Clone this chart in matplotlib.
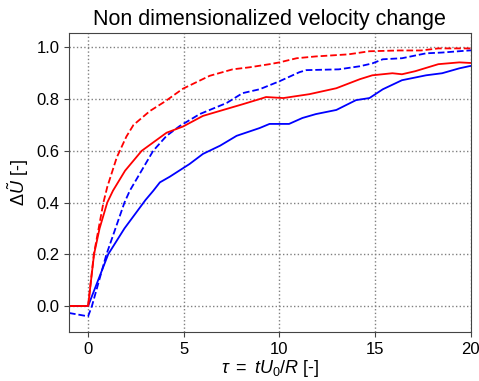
import matplotlib
matplotlib.use("Agg")
import matplotlib.pyplot as plt

plt.rcParams['font.family'] = ['Liberation Sans', 'DejaVu Sans']
plt.rcParams['mathtext.fontset'] = 'custom'
plt.rcParams['mathtext.rm'] = 'Liberation Sans'
plt.rcParams['mathtext.it'] = 'Liberation Sans:italic'

# red dashed
rd_x = [-1, 0, 0.3, 0.8, 1.0, 1.5, 2.0, 2.37, 3.23, 4.0, 4.95, 6.35, 7.55, 8.44, 9.48, 10.0, 10.9, 11.9, 13.6, 14.7, 16.25, 17.4, 18.3, 19.9, 20.5]
rd_y = [0.0, 0.0, 0.2, 0.4, 0.46, 0.575, 0.655, 0.70, 0.754, 0.79, 0.84, 0.89, 0.915, 0.923, 0.935, 0.942, 0.958, 0.965, 0.973, 0.985, 0.988, 0.988, 0.996, 0.996, 0.997]
# red solid
rs_x = [-1, 0, 0.31, 0.6, 1.0, 1.3, 1.93, 2.8, 4.1, 4.96, 6.0, 7.24, 8.07, 8.96, 9.3, 10.2, 11.56, 12.97, 14.2, 14.85, 15.9, 16.4, 17.1, 18.3, 19.4, 19.9, 20.5]
rs_y = [0.0, 0.0, 0.2, 0.3, 0.4, 0.446, 0.523, 0.60, 0.67, 0.694, 0.735, 0.762, 0.78, 0.80, 0.808, 0.804, 0.819, 0.842, 0.877, 0.892, 0.90, 0.896, 0.908, 0.935, 0.942, 0.94, 0.938]
# blue dashed
bd_x = [-1, 0, 0.2, 0.96, 1.9, 2.18, 3.4, 4.1, 4.79, 5.83, 7.24, 8.07, 8.96, 10.0, 11.04, 11.4, 13.1, 14.2, 14.85, 15.4, 16.4, 17.66, 18.5, 19.9, 20.5]
bd_y = [-0.027, -0.04, 0.0, 0.2, 0.4, 0.446, 0.60, 0.658, 0.696, 0.742, 0.785, 0.823, 0.838, 0.869, 0.904, 0.912, 0.915, 0.927, 0.938, 0.954, 0.958, 0.977, 0.98, 0.988, 0.99]
# blue solid
bs_x = [-1, 0, 1.05, 1.9, 2.5, 3.0, 3.4, 3.75, 4.27, 5.3, 6.0, 6.9, 7.76, 8.96, 9.48, 10.5, 11.2, 11.9, 12.97, 14.0, 14.7, 15.4, 16.4, 17.66, 18.5, 19.4, 19.9, 20.5]
bs_y = [0.0, 0.0, 0.2, 0.30, 0.36, 0.41, 0.445, 0.478, 0.50, 0.549, 0.588, 0.62, 0.658, 0.688, 0.704, 0.704, 0.727, 0.742, 0.758, 0.796, 0.804, 0.838, 0.873, 0.892, 0.90, 0.919, 0.927, 0.935]

fig = plt.figure(figsize=(4.79, 3.81), dpi=100)
ax = fig.add_axes([0.144, 0.129, 0.839, 0.784])

ax.plot(bs_x, bs_y, color='blue', lw=1.3, linestyle='-')
ax.plot(bd_x, bd_y, color='blue', lw=1.3, linestyle='--')
ax.plot(rs_x, rs_y, color='red', lw=1.3, linestyle='-')
ax.plot(rd_x, rd_y, color='red', lw=1.3, linestyle='--')

ax.set_xlim(-1, 20)
ax.set_ylim(-0.1, 1.055)
ax.set_xticks([0, 5, 10, 15, 20])
ax.set_yticks([0.0, 0.2, 0.4, 0.6, 0.8, 1.0])
ax.grid(True, color='gray', linestyle=':', linewidth=1.0)
for s in ax.spines.values():
    s.set_color('#444444')
ax.tick_params(labelsize=12, color='#444444')
ax.set_title('Non dimensionalized velocity change', fontsize=15.5)
ax.set_xlabel(r'$\tau\ =\ tU_0/R$ [-]', fontsize=13, labelpad=1)
ax.set_ylabel(r'$\Delta\tilde{U}$ [-]', fontsize=13)

fig.savefig('out.png', dpi=100)
